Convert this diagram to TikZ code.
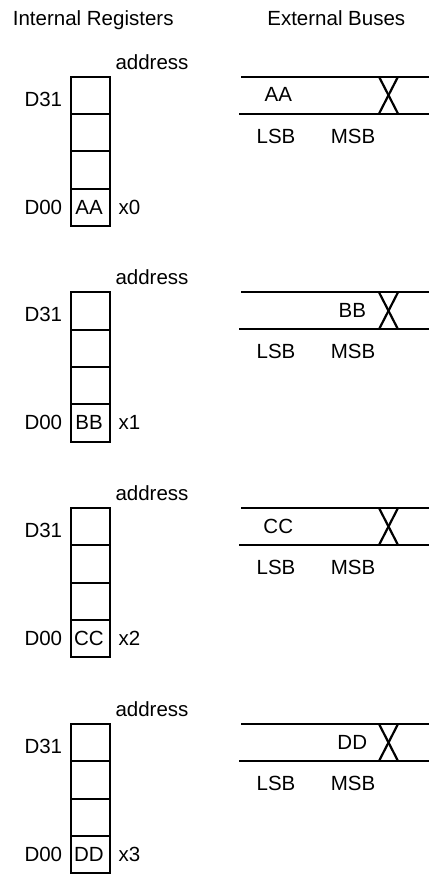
\documentclass[tikz,border=0pt]{standalone}
\usepackage{fontspec}
\setmainfont{Liberation Sans}
\begin{document}
\begin{tikzpicture}[x=1pt,y=-1pt,
  lbl/.style={font=\fontsize{20.5}{24}\selectfont, inner sep=0pt, anchor=base},
  cell/.style={draw, line width=2.2pt, minimum width=38.7pt, minimum height=37.3pt, inner sep=0pt, outer sep=0pt, font=\fontsize{20.5}{24}\selectfont},
  busline/.style={line width=2.2pt}]
\useasboundingbox (0,0) rectangle (429,884);
\node[lbl, anchor=base west] (t1) at (12.7,25) {Internal Registers};
\node[lbl] (t2) at (336.3,25) {External Buses};
\foreach \i/\T/\v/\bx in {0/76.7/AA/278.3, 1/292.3/BB/352.3, 2/508/CC/278.3, 3/724/DD/352.3} {
  \node[lbl] (addr\i) at (152,\T-7.5) {address};
  \node[cell] (c3\i) at (90.65,\T+18.65) {};
  \node[cell] (c2\i) at (90.65,\T+56) {};
  \node[cell] (c1\i) at (90.65,\T+93.3) {};
  \node[cell] (c0\i) at (90.65,\T+130.65) {};
  \node[lbl] (v\i) at (89,\T+137.3) {\v};
  \node[lbl, anchor=base west] (d31\i) at (24.3,\T+29.3) {D31};
  \node[lbl, anchor=base west] (d00\i) at (24.3,\T+137.3) {D00};
  \node[lbl, anchor=base west] (x\i) at (118.3,\T+137.3) {x\i};
  \coordinate (btl\i) at (241,\T);
  \coordinate (btr\i) at (429,\T);
  \coordinate (bbl\i) at (239,\T+37);
  \coordinate (bbr\i) at (429,\T+37);
  \coordinate (xa\i) at (379,\T);
  \coordinate (xb\i) at (398,\T+37);
  \coordinate (xc\i) at (398,\T);
  \coordinate (xd\i) at (379,\T+37);
  \draw[busline] (btl\i) -- (btr\i);
  \draw[busline] (bbl\i) -- (bbr\i);
  \draw[busline] (xa\i) -- (xb\i);
  \draw[busline] (xc\i) -- (xd\i);
  \node[lbl] (bus\i) at (\bx,\T+25) {\v};
  \node[lbl] (lsb\i) at (276,\T+66.6) {LSB};
  \node[lbl] (msb\i) at (353,\T+66.6) {MSB};
}
\end{tikzpicture}
\end{document}
